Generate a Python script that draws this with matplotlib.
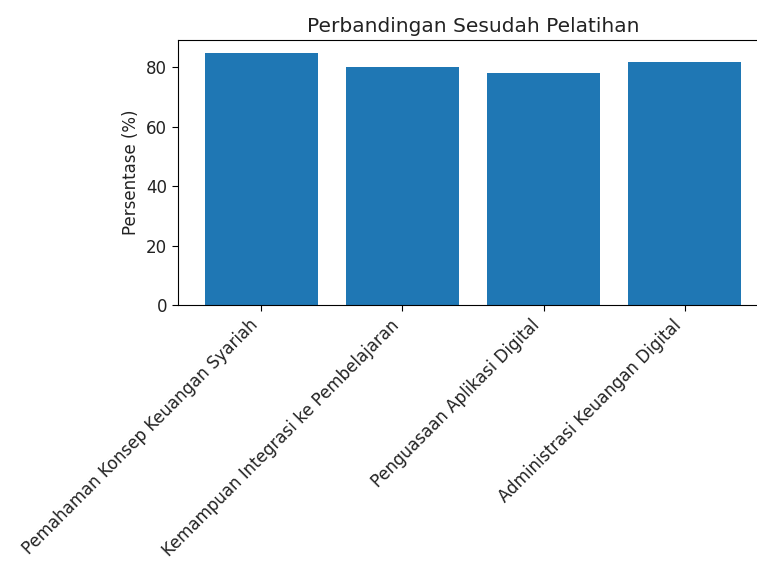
import matplotlib
matplotlib.use('Agg')
import matplotlib.pyplot as plt

# Data
aspek = [
    'Pemahaman Konsep Keuangan Syariah',
    'Kemampuan Integrasi ke Pembelajaran',
    'Penguasaan Aplikasi Digital',
    'Administrasi Keuangan Digital',
]
sesudah = [85, 80, 78, 82]

txt = '#222222'

fig = plt.figure(figsize=(7.57, 5.63), dpi=100)
# axes runs past the right edge, like the cropped reference
ax = fig.add_axes([178 / 757, 1 - 305 / 563, (768 - 178) / 757, (305 - 40) / 563])

ax.bar(aspek, sesudah, color='#1f77b4')
ax.set_title('Perbandingan Sesudah Pelatihan', fontsize=14.5, color=txt)
ax.set_ylabel('Persentase (%)', fontsize=12, color=txt)
ax.tick_params(labelsize=12, labelcolor=txt, length=4.5)
plt.setp(ax.get_xticklabels(), rotation=45, ha='right')

fig.savefig('out.png', dpi=100)
